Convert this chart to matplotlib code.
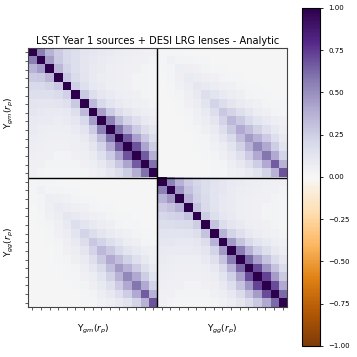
import numpy as np
import matplotlib
matplotlib.use("Agg")
import matplotlib.pyplot as plt

# Correlation matrix of the data vector [Upsilon_gm(r_p), Upsilon_gg(r_p)], 15 r_p bins each.
# Values read off the reference as off-diagonal bands (band k = element (i, i+k)).
n_bins = 15

gm_gm_bands = [
    [1.0] * 15,
    [0.55, 0.45, 0.35, 0.28, 0.24, 0.27, 0.33, 0.44, 0.54, 0.60, 0.66, 0.68, 0.66, 0.60],
    [0.36, 0.27, 0.22, 0.18, 0.15, 0.16, 0.20, 0.26, 0.33, 0.40, 0.43, 0.42, 0.38],
    [0.26, 0.20, 0.16, 0.13, 0.10, 0.11, 0.13, 0.17, 0.22, 0.26, 0.28, 0.25],
    [0.20, 0.16, 0.12, 0.09, 0.08, 0.08, 0.09, 0.12, 0.15, 0.17, 0.17],
    [0.16, 0.12, 0.09, 0.07, 0.06, 0.06, 0.07, 0.08, 0.10, 0.11],
    [0.13, 0.10, 0.08, 0.06, 0.05, 0.05, 0.05, 0.06, 0.07],
    [0.11, 0.08, 0.06, 0.05, 0.04, 0.04, 0.04, 0.04],
    [0.09, 0.07, 0.05, 0.04, 0.03, 0.03, 0.03],
    [0.08, 0.06, 0.04, 0.03, 0.03, 0.02],
    [0.07, 0.05, 0.04, 0.03, 0.02],
    [0.06, 0.04, 0.03, 0.02],
    [0.05, 0.04, 0.02],
    [0.04, 0.03],
    [0.04],
]

gg_gg_bands = [
    [1.0] * 15,
    [0.54, 0.47, 0.37, 0.30, 0.25, 0.29, 0.36, 0.46, 0.56, 0.63, 0.70, 0.72, 0.70, 0.62],
    [0.36, 0.30, 0.24, 0.19, 0.16, 0.17, 0.22, 0.29, 0.36, 0.43, 0.47, 0.45, 0.40],
    [0.26, 0.22, 0.18, 0.14, 0.11, 0.12, 0.15, 0.19, 0.24, 0.29, 0.30, 0.27],
    [0.21, 0.17, 0.13, 0.10, 0.09, 0.09, 0.10, 0.13, 0.16, 0.18, 0.18],
    [0.17, 0.13, 0.10, 0.08, 0.06, 0.06, 0.07, 0.09, 0.10, 0.11],
    [0.14, 0.11, 0.08, 0.06, 0.05, 0.05, 0.05, 0.06, 0.07],
    [0.11, 0.08, 0.06, 0.05, 0.04, 0.04, 0.04, 0.04],
    [0.09, 0.07, 0.05, 0.04, 0.03, 0.03, 0.03],
    [0.08, 0.06, 0.04, 0.03, 0.03, 0.02],
    [0.07, 0.05, 0.04, 0.03, 0.02],
    [0.06, 0.04, 0.03, 0.02],
    [0.05, 0.04, 0.02],
    [0.04, 0.03],
    [0.04],
]

gm_gg_bands = [
    [0.02, 0.04, 0.06, 0.08, 0.11, 0.16, 0.22, 0.28, 0.34, 0.40, 0.46, 0.52, 0.58, 0.66, 0.68],
    [0.02, 0.03, 0.05, 0.07, 0.09, 0.13, 0.17, 0.22, 0.27, 0.32, 0.36, 0.40, 0.40, 0.36],
    [0.02, 0.03, 0.04, 0.05, 0.07, 0.09, 0.12, 0.16, 0.19, 0.23, 0.26, 0.25, 0.22],
    [0.01, 0.02, 0.03, 0.04, 0.05, 0.07, 0.08, 0.11, 0.13, 0.15, 0.16, 0.14],
    [0.01, 0.02, 0.02, 0.03, 0.04, 0.05, 0.06, 0.07, 0.09, 0.10, 0.09],
    [0.01, 0.01, 0.02, 0.02, 0.03, 0.03, 0.04, 0.05, 0.06, 0.06],
    [0.01, 0.01, 0.01, 0.02, 0.02, 0.02, 0.03, 0.03, 0.04],
    [0.01, 0.01, 0.01, 0.01, 0.02, 0.02, 0.02, 0.02],
    [0.01, 0.01, 0.01, 0.01, 0.01, 0.01, 0.02],
    [0.01, 0.01, 0.01, 0.01, 0.01, 0.01],
    [0.01, 0.01, 0.01, 0.01, 0.01],
    [0.01, 0.01, 0.01, 0.01],
    [0.01, 0.01, 0.01],
    [0.01, 0.01],
    [0.01],
]

title = "LSST Year 1 sources + DESI LRG lenses - Analytic"
block_labels = [r"$\Upsilon_{gm}(r_p)$", r"$\Upsilon_{gg}(r_p)$"]


def block_from_bands(bands):
    b = np.zeros((n_bins, n_bins))
    for k, vals in enumerate(bands):
        for i, v in enumerate(vals):
            b[i, i + k] = v
            b[i + k, i] = v
    return b


corr = np.block([
    [block_from_bands(gm_gm_bands), block_from_bands(gm_gg_bands)],
    [block_from_bands(gm_gg_bands).T, block_from_bands(gg_gg_bands)],
])
n_tot = corr.shape[0]

fig = plt.figure(figsize=(3.57, 3.57), dpi=100)
ax = fig.add_axes([0.0784, 0.140, 0.7255, 0.7255])
cax = fig.add_axes([0.846, 0.031, 0.0504, 0.947])

im = ax.imshow(corr, cmap="PuOr", vmin=-1, vmax=1, interpolation="nearest", aspect="equal")
ax.axhline(n_bins - 0.5, color="black", lw=1)
ax.axvline(n_bins - 0.5, color="black", lw=1)

ax.set_xticks(np.arange(n_tot))
ax.set_yticks(np.arange(n_tot))
ax.set_xticklabels([])
ax.set_yticklabels([])
ax.tick_params(length=2.5, width=0.6, color="#444444")
for s in ax.spines.values():
    s.set_color("#444444")
    s.set_linewidth(0.8)

ax.set_title(title, fontsize=7.1, pad=3)

# block labels along the axes
for j, lab in enumerate(block_labels):
    ax.text(0.25 + 0.5 * j, -0.06, lab, transform=ax.transAxes, ha="center", va="top", fontsize=6.5)
    ax.text(-0.045, 0.75 - 0.5 * j, lab, transform=ax.transAxes, ha="right", va="center",
            rotation=90, fontsize=6.5)

cb = fig.colorbar(im, cax=cax)
cb.set_ticks([-1, -0.75, -0.5, -0.25, 0, 0.25, 0.5, 0.75, 1])
cb.ax.tick_params(labelsize=5, length=2.5, width=0.6)
cb.outline.set_linewidth(0.8)

fig.savefig("out.png", dpi=100)
